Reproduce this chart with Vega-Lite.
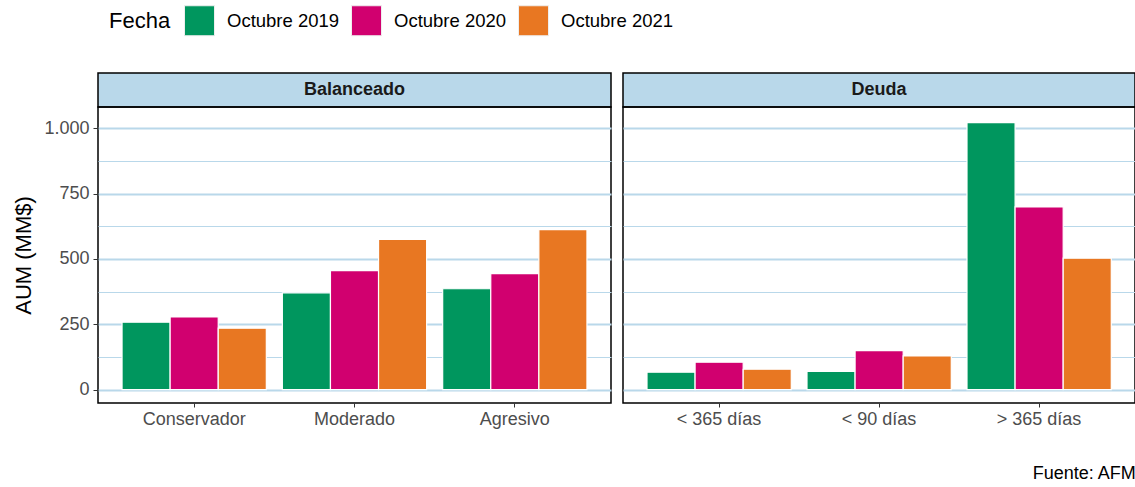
{
  "$schema": "https://vega.github.io/schema/vega-lite/v6.json",
  "padding": {"left": 12, "top": 5, "right": 1, "bottom": 5},
  "background": "white",
  "title": {"text": "Fuente: AFM", "orient": "bottom", "anchor": "end", "fontSize": 18, "fontWeight": "normal", "color": "black", "offset": 36, "font": "Liberation Sans"},
  "data": {"values": [
    {"panel": "Balanceado", "cat": "Conservador", "Fecha": "Octubre 2019", "value": 258},
    {"panel": "Balanceado", "cat": "Conservador", "Fecha": "Octubre 2020", "value": 278},
    {"panel": "Balanceado", "cat": "Conservador", "Fecha": "Octubre 2021", "value": 235},
    {"panel": "Balanceado", "cat": "Moderado", "Fecha": "Octubre 2019", "value": 370},
    {"panel": "Balanceado", "cat": "Moderado", "Fecha": "Octubre 2020", "value": 455},
    {"panel": "Balanceado", "cat": "Moderado", "Fecha": "Octubre 2021", "value": 575},
    {"panel": "Balanceado", "cat": "Agresivo", "Fecha": "Octubre 2019", "value": 386},
    {"panel": "Balanceado", "cat": "Agresivo", "Fecha": "Octubre 2020", "value": 444},
    {"panel": "Balanceado", "cat": "Agresivo", "Fecha": "Octubre 2021", "value": 612},
    {"panel": "Deuda", "cat": "< 365 días", "Fecha": "Octubre 2019", "value": 67},
    {"panel": "Deuda", "cat": "< 365 días", "Fecha": "Octubre 2020", "value": 105},
    {"panel": "Deuda", "cat": "< 365 días", "Fecha": "Octubre 2021", "value": 78},
    {"panel": "Deuda", "cat": "< 90 días", "Fecha": "Octubre 2019", "value": 70},
    {"panel": "Deuda", "cat": "< 90 días", "Fecha": "Octubre 2020", "value": 149},
    {"panel": "Deuda", "cat": "< 90 días", "Fecha": "Octubre 2021", "value": 129},
    {"panel": "Deuda", "cat": "> 365 días", "Fecha": "Octubre 2019", "value": 1021},
    {"panel": "Deuda", "cat": "> 365 días", "Fecha": "Octubre 2020", "value": 699},
    {"panel": "Deuda", "cat": "> 365 días", "Fecha": "Octubre 2021", "value": 503}
  ]},
  "hconcat": [
    {
      "vconcat": [
        {
          "width": 513, "height": 34,
          "view": {"fill": "#b9d8ea", "stroke": "black", "strokeWidth": 1.5},
          "data": {"values": [{"panel": "Balanceado"}]},
          "mark": {"type": "text", "fontWeight": "bold", "fontSize": 18, "color": "#1a1a1a", "font": "Liberation Sans"},
          "encoding": {"text": {"field": "panel"}}
        },
        {
          "width": 513, "height": 296,
          "transform": [{"filter": "datum.panel === 'Balanceado'"}],
          "mark": {"type": "bar", "stroke": "white", "strokeWidth": 1.2},
          "encoding": {
            "x": {"field": "cat", "type": "nominal", "sort": ["Conservador", "Moderado", "Agresivo"],
                  "scale": {"paddingInner": 0.1, "paddingOuter": 0.15},
                  "axis": {"title": null, "labelAngle": 0, "labelFontSize": 18, "labelColor": "#4d4d4d", "tickColor": "#333333", "tickSize": 4, "labelPadding": 3, "grid": false}},
            "xOffset": {"field": "Fecha", "type": "nominal", "scale": {"paddingInner": 0, "paddingOuter": 0}},
            "y": {"field": "value", "type": "quantitative",
                  "scale": {"domain": [-51, 1081], "nice": false, "zero": false},
                  "axis": {"title": "AUM (MM$)", "titleFontSize": 22, "titleFontWeight": "normal", "titleColor": "black", "titlePadding": 8,
                           "values": [0, 125, 250, 375, 500, 625, 750, 875, 1000],
                           "labelExpr": "datum.value % 250 === 0 ? replace(format(datum.value, ','), ',', '.') : ''",
                           "labelFontSize": 18, "labelColor": "#4d4d4d", "labelPadding": 4,
                           "tickColor": "#333333", "tickSize": 5,
                           "tickOpacity": {"condition": {"test": "datum.value % 250 === 0", "value": 1}, "value": 0},
                           "grid": true, "gridColor": "#b9d8ea",
                           "gridWidth": {"condition": {"test": "datum.value % 250 === 0", "value": 1.8}, "value": 1}}},
            "color": {"field": "Fecha", "type": "nominal",
                      "scale": {"domain": ["Octubre 2019", "Octubre 2020", "Octubre 2021"], "range": ["#00965e", "#d1006f", "#e87722"]},
                      "legend": {"title": "Fecha"}}
          }
        }
      ],
      "spacing": 0,
      "bounds": "flush"
    },
    {
      "vconcat": [
        {
          "width": 512, "height": 34,
          "view": {"fill": "#b9d8ea", "stroke": "black", "strokeWidth": 1.5},
          "data": {"values": [{"panel": "Deuda"}]},
          "mark": {"type": "text", "fontWeight": "bold", "fontSize": 18, "color": "#1a1a1a", "font": "Liberation Sans"},
          "encoding": {"text": {"field": "panel"}}
        },
        {
          "width": 512, "height": 296,
          "transform": [{"filter": "datum.panel === 'Deuda'"}],
          "mark": {"type": "bar", "stroke": "white", "strokeWidth": 1.2},
          "encoding": {
            "x": {"field": "cat", "type": "nominal", "sort": ["< 365 días", "< 90 días", "> 365 días"],
                  "scale": {"paddingInner": 0.1, "paddingOuter": 0.15},
                  "axis": {"title": null, "labelAngle": 0, "labelFontSize": 18, "labelColor": "#4d4d4d", "tickColor": "#333333", "tickSize": 4, "labelPadding": 3, "grid": false}},
            "xOffset": {"field": "Fecha", "type": "nominal", "scale": {"paddingInner": 0, "paddingOuter": 0}},
            "y": {"field": "value", "type": "quantitative",
                  "scale": {"domain": [-51, 1081], "nice": false, "zero": false},
                  "axis": {"title": null, "labels": false, "ticks": false,
                           "values": [0, 125, 250, 375, 500, 625, 750, 875, 1000],
                           "grid": true, "gridColor": "#b9d8ea",
                           "gridWidth": {"condition": {"test": "datum.value % 250 === 0", "value": 1.8}, "value": 1}}},
            "color": {"field": "Fecha", "type": "nominal",
                      "scale": {"domain": ["Octubre 2019", "Octubre 2020", "Octubre 2021"], "range": ["#00965e", "#d1006f", "#e87722"]},
                      "legend": {"title": "Fecha"}}
          }
        }
      ],
      "spacing": 0,
      "bounds": "flush"
    }
  ],
  "spacing": 10,
  "config": {
    "font": "Liberation Sans",
    "view": {"stroke": "black", "strokeWidth": 1.5},
    "axis": {"domain": false},
    "legend": {
      "orient": "none", "legendX": 11, "legendY": -68, "direction": "horizontal", "titleOrient": "left",
      "titleFontSize": 22, "titleFontWeight": "normal", "titleColor": "black", "titleBaseline": "middle",
      "labelFontSize": 18.5, "labelColor": "black", "labelOffset": 12,
      "symbolType": "square", "symbolSize": 900, "symbolStrokeColor": "#eeeeee", "symbolStrokeWidth": 1,
      "columnPadding": 9, "titlePadding": 13
    }
  }
}
